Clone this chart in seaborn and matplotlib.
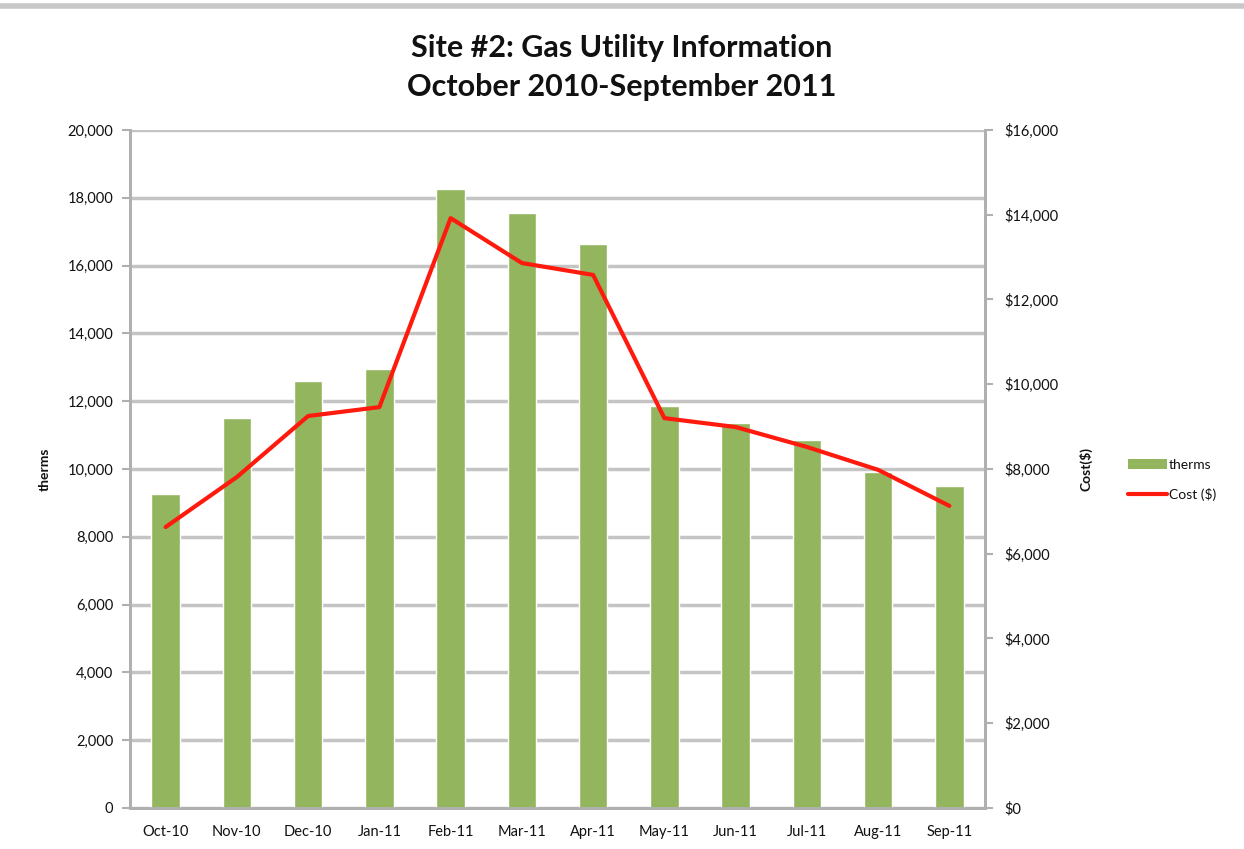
import matplotlib
matplotlib.use("Agg")
import matplotlib.pyplot as plt
import matplotlib.ticker as mticker
from matplotlib.patches import Patch
from matplotlib.lines import Line2D
import numpy as np
import pandas as pd
import seaborn as sns

months = ["Oct-10", "Nov-10", "Dec-10", "Jan-11", "Feb-11", "Mar-11",
          "Apr-11", "May-11", "Jun-11", "Jul-11", "Aug-11", "Sep-11"]
therms = [9250, 11500, 12600, 12950, 18250, 17550, 16650, 11850, 11350, 10850, 9900, 9500]
cost = [6630, 7810, 9250, 9460, 13920, 12860, 12580, 9200, 8990, 8520, 7980, 7130]

df = pd.DataFrame({"month": months, "therms": therms, "cost": cost})

sns.set_theme(style="white")
plt.rcParams["font.family"] = ["Lato", "DejaVu Sans"]

GRID = "#c4c4c4"
AX = "#b0b0b0"
GREEN = "#93b55e"
RED = "#ff1a0e"
TXT = "#111111"

fig = plt.figure(figsize=(12.44, 8.49), dpi=100)
ax = fig.add_axes([0.1045, 0.0483, 0.6873, 0.7986])

sns.barplot(data=df, x="month", y="therms", ax=ax, color=GREEN, width=0.4,
            saturation=1, zorder=3)
ax.set_ylim(0, 20000)
ax.set_yticks(np.arange(0, 20001, 2000))
ax.yaxis.set_major_formatter(mticker.FuncFormatter(lambda v, p: f"{int(v):,}"))
ax.grid(axis="y", color=GRID, linewidth=2.5, zorder=0)
ax.set_axisbelow(True)
ax.set_xlabel("")
ax.set_ylabel("therms", fontsize=10, fontweight="bold", color=TXT, labelpad=12)

ax2 = ax.twinx()
sns.pointplot(data=df, x="month", y="cost", ax=ax2, color=RED, markers="",
              linewidth=3, errorbar=None)
ax2.set_ylim(0, 16000)
ax2.set_yticks(np.arange(0, 16001, 2000))
ax2.yaxis.set_major_formatter(mticker.FuncFormatter(lambda v, p: f"${int(v):,}"))
ax2.set_ylabel("Cost($)", fontsize=10, fontweight="bold", color=TXT, labelpad=15)
ax2.set_xlim(-0.5, len(months) - 0.5)
ax.set_xlim(-0.5, len(months) - 0.5)

for a in (ax, ax2):
    for s in a.spines.values():
        s.set_color(AX)
        s.set_linewidth(2)
    a.spines["top"].set_visible(False)

ax.tick_params(axis="y", direction="out", length=6, color=AX, width=1.5,
               labelsize=10.5, labelcolor=TXT, pad=6)
ax2.tick_params(axis="y", direction="out", length=6, color=AX, width=1.5,
                labelsize=10.5, labelcolor=TXT, pad=8)
ax.tick_params(axis="x", which="major", length=0, labelsize=10.5,
               labelcolor=TXT, pad=12)
ax.set_xticks(np.arange(-0.5, len(months), 1), minor=True)
ax.tick_params(axis="x", which="minor", direction="out", length=6,
               color=AX, width=1.5)

fig.suptitle("Site #2: Gas Utility Information\nOctober 2010-September 2011",
             fontsize=22, fontweight="bold", color=TXT, y=0.96,
             x=0.5, linespacing=1.5)

# top grey band
fig.add_artist(Line2D([0, 1], [0.993, 0.993], transform=fig.transFigure,
                      color="#c8c8c8", linewidth=4))

handles = [Patch(facecolor=GREEN, edgecolor="none", label="therms"),
           Line2D([0], [0], color=RED, linewidth=3, label="Cost ($)")]
fig.legend(handles=handles, loc="center left", bbox_to_anchor=(0.897, 0.435),
           frameon=False, fontsize=10, handlelength=2.8, handletextpad=0.1,
           labelspacing=1.2, labelcolor=TXT)

fig.savefig("out.png", dpi=100)
